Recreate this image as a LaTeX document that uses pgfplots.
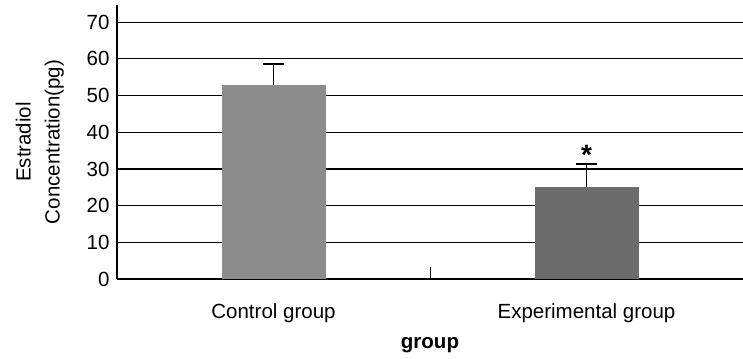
\documentclass[border=0pt]{standalone}
\usepackage{fontspec}
\setmainfont{Liberation Sans}
\usepackage{pgfplots}
\pgfplotsset{compat=1.18}
\definecolor{ctrl}{HTML}{8C8C8C}
\definecolor{expt}{HTML}{6C6C6C}
\begin{document}
\begin{tikzpicture}
\begin{axis}[
  scale only axis,
  width=626pt, height=274pt,
  xmin=-0.5, xmax=1.5,
  ymin=0, ymax=74.7,
  axis x line=bottom, axis y line=left,
  axis line style={-, line width=1.2pt},
  xtick={0,1},
  xticklabels={Control group, Experimental group},
  x tick label style={yshift=-21pt},
  major tick length=0pt,
  ytick={0,10,...,70},
  ymajorgrids,
  grid style={black, line width=1.1pt},
  y tick label style={xshift=-4pt},
  /pgf/number format/assume math mode=true,
  tick label style={font=\fontsize{20.5}{23}\selectfont},
  xlabel={\textbf{group}},
  xlabel style={font=\fontsize{20.5}{23}\selectfont, yshift=-8pt},
  ylabel={Estradiol\\Concentration(pg)},
  ylabel style={font=\fontsize{20.5}{29}\selectfont, align=center, yshift=16pt},
  ybar, bar width=104pt,
  bar shift=0pt,
]
\addplot[fill=ctrl, draw=none,
  error bars/.cd, y dir=plus, y explicit,
  error bar style={line width=1.4pt, black},
  error mark options={rotate=90, mark size=10.5pt, line width=1.4pt, black}]
  coordinates {(0,52.9) +- (0,5.7)};
\addplot[fill=expt, draw=none,
  error bars/.cd, y dir=plus, y explicit,
  error bar style={line width=1.4pt, black},
  error mark options={rotate=90, mark size=10.5pt, line width=1.4pt, black}]
  coordinates {(1,25.2) +- (0,6.1)};
\draw[line width=0.9pt] (axis cs:0.5,0) -- ([yshift=12pt]axis cs:0.5,0);
\node[anchor=base, font=\fontsize{28}{30}\selectfont\bfseries, inner sep=0pt] at (axis cs:1,31.3) {*};
\end{axis}
\pgfresetboundingbox
\path ([xshift=-117pt,yshift=-79pt]current axis.south west) rectangle ([yshift=5pt]current axis.north east);
\end{tikzpicture}
\end{document}
